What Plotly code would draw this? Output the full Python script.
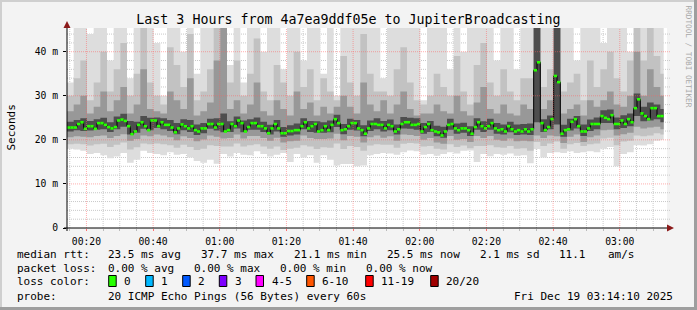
import pandas as pd
import plotly.graph_objects as go

TITLE = "Last 3 Hours from 4a7ea9ddf05e to JupiterBroadcasting"
START = "2025-12-19 00:14:10"
END = "2025-12-19 03:14:10"

# median rtt per minute (ms)
median_ms = [
    22.8, 22.8, 22.8, 23.6, 24.0, 22.5, 23.1, 23.1, 22.5, 23.8,
    23.8, 23.4, 22.9, 22.6, 22.9, 24.4, 24.6, 24.3, 23.1, 21.3,
    21.9, 23.4, 24.0, 23.1, 22.2, 24.4, 24.4, 23.1, 24.0, 23.4,
    23.4, 22.8, 21.7, 22.6, 23.5, 23.1, 22.6, 23.1, 22.2, 21.9,
    22.6, 22.6, 23.6, 23.6, 22.8,
    23.6, 23.6, 21.9, 22.2, 23.6, 23.1, 24.4, 23.8, 21.9, 22.9,
    23.8, 23.8, 23.1, 23.1, 22.6, 21.5, 22.6, 23.6, 22.6, 21.5,
    21.5, 22.0, 22.0, 22.2, 22.2, 23.1, 24.0, 22.6, 23.1, 23.6,
    21.9, 22.2, 23.1, 22.2, 23.4, 24.7, 23.8, 22.2, 22.4, 23.1,
    23.8, 23.8, 22.6, 22.2, 21.4,
    22.6, 23.6, 23.6, 23.4, 23.4, 22.6, 23.4, 23.1, 21.9, 22.4,
    23.6, 24.0, 24.0, 23.4, 23.4, 23.6, 21.9, 22.9, 23.6, 22.2,
    21.9, 21.7, 21.0, 21.9, 23.4, 23.6, 22.6, 22.2, 22.6, 22.6,
    22.2, 21.4, 22.9, 24.0, 23.1, 22.6, 23.1, 23.8, 22.6, 22.2,
    22.4, 21.9, 23.1, 22.4, 21.9,
    22.2, 21.9, 22.4, 21.9, 22.4, 35.8, 37.6, 23.8, 22.2, 22.9,
    24.7, 34.5, 33.1, 21.4, 22.2, 22.4, 24.1, 24.7, 23.1, 21.9,
    21.9, 22.6, 23.6, 23.6, 23.6, 25.4, 25.0, 24.7, 25.6, 23.6,
    23.6, 24.4, 23.6, 24.7, 24.0, 27.2, 29.2, 26.0, 25.4, 24.7,
    27.2, 27.2, 25.4, 25.4, None,
]

# smoke (ping distribution) per 2-minute column (ms)
smoke_max = [
    33, 46, 46, 44, 46, 46, 38, 46, 46, 34, 46, 46, 46, 42, 30, 46, 46, 40, 46, 35,
    46, 46, 46, 46, 37, 46, 33, 46, 46, 40, 46, 46, 36, 46, 46, 38, 46, 46, 35, 46,
    30, 46, 46, 46, 46, 46, 46, 34, 46, 46, 46, 46, 46, 29, 46, 46, 46, 36, 46, 40,
    46, 46, 46, 46, 38, 46, 46, 36, 46, 46, 46, 46, 46, 46, 46, 46, 38, 46, 46, 46,
    42, 46, 46, 46, 40, 46, 46, 46, 46, 46,
]
smoke_p90 = [
    30, 34, 38, 29, 33, 40, 31, 36, 42, 30, 35, 46, 33, 30, 28, 41, 37, 32, 44, 29,
    31, 36, 46, 46, 33, 38, 30, 35, 43, 31, 29, 37, 33, 30, 40, 32, 36, 29, 34, 31,
    29, 39, 33, 30, 44, 35, 31, 31, 30, 36, 41, 33, 29, 28, 30, 35, 32, 30, 39, 31,
    28, 37, 42, 33, 30, 36, 31, 29, 34, 34, 46, 32, 36, 46, 31, 33, 35, 29, 38, 32,
    36, 40, 34, 31, 38, 46, 38, 46, 39, 35,
]
smoke_p75 = [
    26.5, 28, 30, 26, 27.5, 31, 26.5, 29, 32, 26, 28, 36, 27, 26.5, 26, 31, 29, 27, 34, 25.5,
    26.5, 28.5, 38, 46, 27, 29, 26, 28, 33, 26.5, 25.5, 29, 27, 25.5, 31, 27, 28.5, 25.5, 27.5, 26,
    27.5, 30, 27.5, 26, 33, 28, 26.5, 29, 26, 28, 31, 27, 25.5, 26, 26, 28, 26.5, 26, 30, 26.5,
    25.5, 28.5, 32, 27, 26, 28, 26, 25.5, 28, 27, 46, 27, 29, 46, 26, 27, 28, 25.5, 29, 27.5,
    29, 31, 28, 27.5, 30, 40, 30, 36, 32, 30,
]
smoke_p60 = [
    24.1, 24.5, 24.9, 24.3, 24.7, 25.0, 24.0, 25.3, 25.9, 24.3, 24.1, 25.4, 25.0, 25.1, 24.9,
    24.5, 23.8, 24.7, 24.5, 23.5, 23.8, 24.8, 24.9, 26.0, 24.2, 25.3, 24.4, 24.7, 25.1, 24.1,
    23.4, 24.5, 22.9, 23.3, 23.7, 24.9, 24.3, 24.2, 24.0, 24.4, 25.7, 23.6, 24.8, 24.5, 23.3,
    24.4, 24.9, 24.3, 24.6, 23.5, 25.2, 25.0, 24.9, 23.8, 24.3, 23.2, 23.0, 24.8, 23.7, 23.9,
    23.1, 24.9, 24.2, 24.8, 23.8, 23.5, 24.1, 23.5, 23.6, 23.7, 46.0, 24.7, 25.5, 46.0, 23.4,
    24.8, 25.4, 23.5, 24.6, 25.1, 26.7, 26.9, 25.1, 25.6, 26.0, 30.5, 27.5, 28.5, 28.0, 27.0,
]
smoke_p40 = [
    21.9, 22.2, 22.0, 22.1, 22.3, 22.4, 21.8, 22.4, 23.0, 21.2, 21.6, 22.5, 22.2, 22.7, 22.4,
    22.0, 21.3, 22.2, 21.8, 21.1, 21.5, 22.5, 22.1, 21.7, 21.8, 22.6, 21.7, 22.3, 22.3, 21.8,
    21.2, 21.9, 20.7, 21.0, 21.2, 22.4, 21.8, 21.6, 21.6, 21.7, 22.9, 21.3, 22.3, 22.1, 20.8,
    22.0, 22.4, 21.9, 22.2, 21.2, 22.6, 22.5, 22.3, 21.4, 21.8, 20.8, 20.5, 22.3, 21.4, 21.6,
    20.9, 22.3, 21.8, 22.3, 21.4, 21.2, 21.7, 21.1, 21.2, 21.1, 24.0, 21.8, 22.4, 23.5, 20.7,
    22.1, 22.6, 20.9, 22.0, 22.4, 23.8, 23.8, 22.4, 22.7, 23.1, 25.4, 24.2, 24.4, 24.7, 24.0,
]
smoke_p25 = [
    20.6, 20.8, 20.7, 20.6, 20.9, 21.0, 20.4, 20.9, 21.3, 19.8, 20.2, 21.0, 20.8, 21.2, 21.0,
    20.6, 19.9, 20.8, 20.4, 19.7, 20.1, 21.0, 20.7, 20.3, 20.4, 21.2, 20.3, 20.9, 20.9, 20.4,
    19.8, 20.5, 19.4, 19.7, 19.8, 21.0, 20.4, 20.2, 20.2, 20.3, 21.4, 19.9, 20.9, 20.7, 19.4,
    20.6, 21.0, 20.5, 20.8, 19.8, 21.2, 21.1, 20.9, 20.0, 20.4, 19.4, 19.1, 20.9, 20.0, 20.2,
    19.5, 20.9, 20.4, 20.9, 20.0, 19.8, 20.3, 19.7, 19.8, 19.7, 21.0, 20.4, 21.0, 20.8, 19.3,
    20.7, 21.2, 19.5, 20.6, 21.0, 22.2, 22.3, 21.0, 21.3, 21.6, 23.0, 22.6, 22.8, 23.0, 22.4,
]
smoke_p10 = [
    19.0, 19.1, 19.0, 18.7, 19.0, 19.1, 18.4, 18.9, 19.4, 17.8, 18.3, 19.2, 19.0, 19.2, 19.0,
    18.8, 18.2, 18.9, 18.4, 17.7, 18.0, 18.8, 18.6, 18.5, 18.5, 19.2, 18.5, 18.8, 19.0, 18.5,
    18.0, 18.5, 17.7, 18.0, 18.2, 18.8, 18.5, 17.9, 18.3, 18.2, 19.2, 17.9, 18.6, 18.4, 17.5,
    18.7, 19.0, 18.9, 18.9, 18.2, 19.1, 19.3, 19.2, 18.5, 18.6, 18.0, 17.8, 19.0, 18.4, 18.7,
    18.1, 18.6, 18.6, 18.8, 18.3, 18.2, 18.6, 18.0, 18.1, 17.5, 19.5, 18.6, 19.2, 19.6, 18.0,
    19.0, 19.3, 18.6, 19.0, 19.2, 20.3, 20.5, 18.8, 19.6, 19.8, 21.0, 20.8, 21.0, 21.5, 21.2,
]
smoke_min = [
    18.0, 17.8, 17.5, 16.8, 17.0, 16.5, 15.8, 16.2, 17.0, 14.8, 15.5, 17.5, 17.0, 16.8, 16.5,
    17.2, 16.6, 16.8, 16.0, 15.2, 14.8, 15.5, 14.6, 16.8, 16.2, 17.0, 16.6, 16.5, 17.4, 16.8,
    16.2, 16.6, 17.0, 15.0, 16.8, 16.0, 16.5, 14.8, 16.5, 15.5, 14.2, 14.5, 14.5, 14.0, 14.2,
    16.5, 16.8, 17.0, 16.9, 16.6, 17.2, 17.6, 17.4, 16.6, 16.8, 16.4, 16.8, 17.2, 16.9, 17.5,
    17.6, 15.0, 16.8, 16.3, 16.8, 16.6, 16.9, 16.4, 16.5, 14.7, 17.9, 16.0, 17.0, 17.2, 17.0,
    17.4, 17.0, 17.2, 17.4, 17.2, 18.0, 18.4, 14.0, 16.8, 17.2, 18.8, 18.7, 19.0, 19.8, 20.0,
]

y_ticks = [0, 10, 20, 30, 40]
y_tick_labels = ["0", "10 m", "20 m", "30 m", "40 m"]

rtt_stats = ["23.5 ms avg", "37.7 ms max", "21.1 ms min", "25.5 ms now", "2.1 ms sd", "11.1", "am/s"]
loss_stats = ["0.00 % avg", "0.00 % max", "0.00 % min", "0.00 % now"]
loss_labels = ["0", "1", "2", "3", "4-5", "6-10", "11-19", "20/20"]
loss_colors = ["#26ff00", "#00b8ff", "#0059ff", "#7e00ff", "#ff00ff", "#ff5500", "#ff0000", "#a10000"]
probe_text = "20 ICMP Echo Pings (56 Bytes) every 60s"
stamp_text = "Fri Dec 19 03:14:10 2025"

# ---------------------------------------------------------------------------
W, H = 697, 310
PL, PR, PT, PB = 67, 667, 28, 228
YMAX = 45.38
FONT = "DejaVu Sans Mono"


def fx(px):
    return (px - PL) / (PR - PL)


def fy(py):
    return (PB - py) / (PB - PT)


t0 = pd.Timestamp(START)
t1 = pd.Timestamp(END)
minute = pd.Timedelta(minutes=1)

fig = go.Figure()

# smoke bands
n = len(smoke_max)
edges = [t0 + 2 * k * minute for k in range(n)] + [t0 + (len(median_ms) - 1) * minute]
bands = [
    (smoke_min, smoke_max, "#dddddd"),
    (smoke_p10, smoke_p90, "#c2c2c2"),
    (smoke_p25, smoke_p75, "#989898"),
    (smoke_p40, smoke_p60, "#4e4e4e"),
]
for lo, hi, col in bands:
    fig.add_trace(go.Scatter(x=edges, y=list(lo) + [lo[-1]], mode="lines",
                             line=dict(width=0, shape="hv"), hoverinfo="skip", showlegend=False))
    fig.add_trace(go.Scatter(x=edges, y=list(hi) + [hi[-1]], mode="lines", fill="tonexty",
                             fillcolor=col, line=dict(width=0, shape="hv"),
                             hoverinfo="skip", showlegend=False))

# median: black step line + green segments
mx = [t0 + i * minute for i in range(len(median_ms) + 1)]
fig.add_trace(go.Scatter(x=mx[:-1], y=median_ms, mode="lines",
                         line=dict(color="#000000", width=1, shape="hv"),
                         hoverinfo="skip", showlegend=False))
gx, gy = [], []
for i, m in enumerate(median_ms):
    if m is None:
        continue
    gx += [mx[i], mx[i + 1], None]
    gy += [m, m, None]
fig.add_trace(go.Scatter(x=gx, y=gy, mode="lines", line=dict(color=loss_colors[0], width=2.6),
                         hoverinfo="skip", showlegend=False))

shapes = []
# grid: minor lines under the smoke, major lines on top
MINOR = "#c9c9c9"
MAJOR = "rgba(255,95,95,0.5)"
DOT = "1px,1px"
tm = pd.Timestamp("2025-12-19 00:15:00")
while tm < t1:
    major = (tm.minute % 20 == 0)
    shapes.append(dict(type="line", xref="x", yref="paper", x0=tm, x1=tm, y0=0, y1=1,
                       line=dict(color=MAJOR if major else MINOR, width=1, dash=DOT),
                       layer="above" if major else "below"))
    tm += pd.Timedelta(minutes=5)
for v in range(2, 46, 2):
    major = (v % 10 == 0)
    shapes.append(dict(type="line", xref="paper", yref="y", x0=0, x1=1.005, y0=v, y1=v,
                       line=dict(color=MAJOR if major else MINOR, width=1, dash=DOT),
                       layer="above" if major else "below"))

# axes lines & arrows
shapes.append(dict(type="line", xref="paper", yref="paper", x0=fx(PL - 3), x1=fx(671), y0=0, y1=0,
                   line=dict(color="#000000", width=1), layer="above"))
shapes.append(dict(type="line", xref="paper", yref="paper", x0=0, x1=0, y0=fy(PB + 3), y1=fy(24),
                   line=dict(color="#000000", width=1), layer="above"))
shapes.append(dict(type="path", xref="paper", yref="paper",
                   path=f"M {fx(667)} {fy(224.5)} L {fx(674)} {fy(228)} L {fx(667)} {fy(231.5)} Z",
                   fillcolor="#8b1a1a", line=dict(width=0), layer="above"))
shapes.append(dict(type="path", xref="paper", yref="paper",
                   path=f"M {fx(63.5)} {fy(28)} L {fx(67)} {fy(21)} L {fx(70.5)} {fy(28)} Z",
                   fillcolor="#8b1a1a", line=dict(width=0), layer="above"))

# frame of the canvas
shapes.append(dict(type="rect", xref="paper", yref="paper", x0=fx(0), x1=fx(W), y0=fy(0), y1=fy(2),
                   fillcolor="#cfcfcf", line=dict(width=0), layer="below"))
shapes.append(dict(type="rect", xref="paper", yref="paper", x0=fx(0), x1=fx(2), y0=fy(0), y1=fy(H),
                   fillcolor="#cfcfcf", line=dict(width=0), layer="below"))
shapes.append(dict(type="rect", xref="paper", yref="paper", x0=fx(W - 3), x1=fx(W), y0=fy(0), y1=fy(H),
                   fillcolor="#9e9e9e", line=dict(width=0), layer="below"))
shapes.append(dict(type="rect", xref="paper", yref="paper", x0=fx(0), x1=fx(W), y0=fy(H - 3), y1=fy(H),
                   fillcolor="#9e9e9e", line=dict(width=0), layer="below"))

ann = []


def text(s, x, y, size=11, color="#000000", anchor="left", angle=0):
    ann.append(dict(text=s, x=fx(x), y=fy(y), xref="paper", yref="paper", showarrow=False,
                    xanchor=anchor, yanchor="middle", textangle=angle, borderpad=0,
                    font=dict(family=FONT, size=size, color=color)))


# legend rows
ROW1, ROW2, ROW3, ROW4 = 254.5, 268.5, 281.5, 296
text("median rtt:", 16, ROW1)
for s, x in zip(rtt_stats, [107.3, 200, 293.3, 386, 479.3, 558.3, 606.7]):
    text(s, x, ROW1)
text("packet loss:", 16, ROW2)
for s, x in zip(loss_stats, [107.3, 193.3, 279.3, 365]):
    text(s, x, ROW2)
text("loss color:", 16, ROW3)
for lab, col, x in zip(loss_labels, loss_colors, [108.7, 145.7, 182.7, 219.3, 256, 306.7, 365.7, 430.7]):
    shapes.append(dict(type="rect", xref="paper", yref="paper", x0=fx(x), x1=fx(x + 7.5),
                       y0=fy(275.5), y1=fy(286.5), fillcolor=col,
                       line=dict(color="#000000", width=1), layer="above"))
    text(lab, x + 14.5, ROW3)
text("probe:", 16, ROW4)
text(probe_text, 107.3, ROW4)
text(stamp_text, 513.3, ROW4)

# axis title & watermark
text("Seconds", 10.5, 128, size=11, anchor="center", angle=-90)
text("RRDTOOL / TOBI OETIKER", 688.5, 56, size=7.7, color="#a8a8a8", anchor="center", angle=90)

fig.update_layout(
    width=W, height=H, autosize=False,
    margin=dict(l=PL, r=W - PR, t=PT, b=H - PB, pad=0),
    paper_bgcolor="#f3f3f3", plot_bgcolor="#ffffff",
    showlegend=False,
    title=dict(text=TITLE, x=0.5, xref="container", xanchor="center",
               y=1 - 19 / H, yref="container", yanchor="middle",
               font=dict(family=FONT, size=13.3, color="#000000")),
    xaxis=dict(type="date", range=[t0, t1], showgrid=False, zeroline=False, showline=False,
               tick0="2025-12-19 00:00:00", dtick=20 * 60 * 1000, tickformat="%H:%M",
               ticks="outside", ticklen=2, tickcolor="#ff7070",
               minor=dict(dtick=5 * 60 * 1000, ticks="outside", ticklen=2, tickcolor="#bbbbbb", showgrid=False),
               tickfont=dict(family=FONT, size=9.7, color="#000000"), ticklabelstandoff=2),
    yaxis=dict(range=[0, YMAX], showgrid=False, zeroline=False, showline=False,
               tickvals=y_ticks, ticktext=y_tick_labels, ticks="outside", ticklen=3,
               tickcolor="#000000",
               tickfont=dict(family=FONT, size=9.7, color="#000000"), ticklabelstandoff=3),
    shapes=shapes,
    annotations=ann,
)

fig.write_html("out.html")
